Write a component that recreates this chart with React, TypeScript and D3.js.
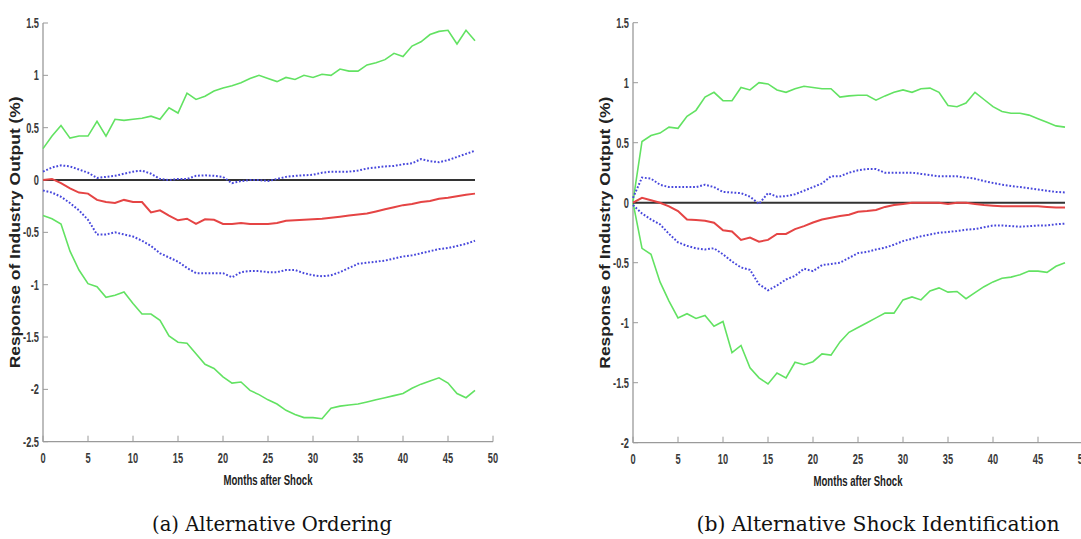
import React from 'react'
import { scaleLinear, line, range } from 'd3'

const months = range(0, 49)

// panel (a) Alternative Ordering
const upperGreenA = [0.30, 0.42, 0.52, 0.40, 0.42, 0.42, 0.56, 0.42, 0.58, 0.57, 0.58, 0.59, 0.61, 0.58, 0.69, 0.64, 0.83, 0.77, 0.80, 0.85, 0.88, 0.90, 0.93, 0.97, 1.00, 0.97, 0.94, 0.98, 0.96, 1.00, 0.98, 1.01, 1.00, 1.06, 1.04, 1.04, 1.10, 1.12, 1.15, 1.21, 1.18, 1.28, 1.32, 1.39, 1.42, 1.43, 1.30, 1.43, 1.33]
const upperBlueA = [0.08, 0.12, 0.14, 0.13, 0.10, 0.07, 0.02, 0.03, 0.04, 0.06, 0.08, 0.09, 0.06, 0.01, 0.00, 0.01, 0.01, 0.04, 0.045, 0.04, 0.03, -0.03, -0.01, 0.0, 0.0, -0.01, 0.01, 0.03, 0.04, 0.045, 0.05, 0.07, 0.08, 0.08, 0.08, 0.09, 0.11, 0.12, 0.13, 0.135, 0.15, 0.16, 0.20, 0.18, 0.17, 0.19, 0.22, 0.25, 0.28]
const responseA = [0.00, 0.01, -0.03, -0.08, -0.12, -0.13, -0.19, -0.21, -0.22, -0.19, -0.21, -0.21, -0.31, -0.29, -0.34, -0.385, -0.37, -0.42, -0.375, -0.38, -0.42, -0.42, -0.41, -0.42, -0.42, -0.42, -0.41, -0.39, -0.385, -0.38, -0.375, -0.37, -0.36, -0.35, -0.34, -0.33, -0.32, -0.30, -0.28, -0.26, -0.24, -0.23, -0.21, -0.20, -0.18, -0.17, -0.155, -0.14, -0.13]
const lowerBlueA = [-0.10, -0.12, -0.16, -0.22, -0.29, -0.38, -0.52, -0.52, -0.50, -0.52, -0.54, -0.58, -0.63, -0.70, -0.74, -0.78, -0.84, -0.89, -0.89, -0.89, -0.89, -0.93, -0.88, -0.87, -0.87, -0.88, -0.88, -0.86, -0.86, -0.89, -0.91, -0.92, -0.91, -0.88, -0.84, -0.80, -0.79, -0.78, -0.77, -0.75, -0.73, -0.72, -0.70, -0.68, -0.66, -0.65, -0.63, -0.61, -0.58]
const lowerGreenA = [-0.34, -0.37, -0.42, -0.68, -0.86, -0.99, -1.02, -1.12, -1.10, -1.07, -1.18, -1.28, -1.28, -1.34, -1.49, -1.55, -1.56, -1.66, -1.76, -1.80, -1.88, -1.94, -1.93, -2.01, -2.05, -2.10, -2.14, -2.20, -2.24, -2.27, -2.27, -2.28, -2.18, -2.16, -2.15, -2.14, -2.12, -2.10, -2.08, -2.06, -2.04, -1.99, -1.95, -1.92, -1.89, -1.94, -2.04, -2.08, -2.01]

// panel (b) Alternative Shock Identification
const upperGreenB = [0.01, 0.51, 0.56, 0.58, 0.63, 0.62, 0.72, 0.77, 0.88, 0.92, 0.85, 0.85, 0.96, 0.94, 1.00, 0.99, 0.94, 0.92, 0.95, 0.97, 0.96, 0.95, 0.95, 0.88, 0.89, 0.895, 0.895, 0.855, 0.89, 0.92, 0.94, 0.92, 0.95, 0.955, 0.92, 0.81, 0.80, 0.83, 0.92, 0.86, 0.80, 0.76, 0.745, 0.745, 0.73, 0.70, 0.67, 0.64, 0.63]
const upperBlueB = [0.04, 0.21, 0.20, 0.15, 0.13, 0.13, 0.13, 0.13, 0.15, 0.13, 0.09, 0.085, 0.08, 0.05, -0.01, 0.08, 0.05, 0.055, 0.07, 0.10, 0.13, 0.16, 0.22, 0.22, 0.25, 0.27, 0.28, 0.28, 0.25, 0.25, 0.25, 0.25, 0.24, 0.23, 0.22, 0.22, 0.22, 0.21, 0.20, 0.18, 0.165, 0.15, 0.14, 0.13, 0.12, 0.11, 0.10, 0.09, 0.085]
const responseB = [0.00, 0.04, 0.02, 0.00, -0.03, -0.07, -0.14, -0.145, -0.15, -0.167, -0.23, -0.24, -0.31, -0.29, -0.325, -0.31, -0.26, -0.26, -0.22, -0.195, -0.165, -0.14, -0.125, -0.11, -0.10, -0.075, -0.07, -0.06, -0.035, -0.02, -0.01, 0.0, 0.0, 0.0, 0.0, -0.01, 0.0, 0.0, -0.01, -0.02, -0.025, -0.03, -0.03, -0.03, -0.03, -0.03, -0.035, -0.04, -0.04]
const lowerBlueB = [-0.02, -0.09, -0.14, -0.18, -0.26, -0.33, -0.36, -0.38, -0.39, -0.38, -0.43, -0.49, -0.54, -0.56, -0.68, -0.73, -0.69, -0.64, -0.61, -0.55, -0.57, -0.52, -0.51, -0.50, -0.46, -0.42, -0.41, -0.39, -0.375, -0.35, -0.32, -0.30, -0.28, -0.265, -0.25, -0.245, -0.235, -0.225, -0.22, -0.205, -0.19, -0.19, -0.195, -0.20, -0.195, -0.19, -0.19, -0.18, -0.175]
const lowerGreenB = [0.0, -0.38, -0.43, -0.66, -0.82, -0.96, -0.925, -0.965, -0.94, -1.03, -0.99, -1.25, -1.19, -1.375, -1.46, -1.51, -1.42, -1.46, -1.33, -1.35, -1.325, -1.26, -1.27, -1.16, -1.08, -1.04, -1.00, -0.96, -0.92, -0.92, -0.81, -0.785, -0.81, -0.735, -0.71, -0.745, -0.74, -0.80, -0.75, -0.70, -0.66, -0.63, -0.62, -0.60, -0.57, -0.57, -0.58, -0.53, -0.50]

const xTicks = [0, 5, 10, 15, 20, 25, 30, 35, 40, 45, 50]
const yTicksA = [1.5, 1, 0.5, 0, -0.5, -1, -1.5, -2, -2.5]
const yTicksB = [1.5, 1, 0.5, 0, -0.5, -1, -1.5, -2]

const GREEN = '#62e262'
const BLUE = '#4848dc'
const RED = '#e54444'
const AXIS = '#9a9a9a'
const SANS = "'Liberation Sans', Arial, sans-serif"

type PanelProps = {
  left: number
  right: number
  top: number
  bottom: number
  yTicks: number[]
  upperGreen: number[]
  upperBlue: number[]
  response: number[]
  lowerBlue: number[]
  lowerGreen: number[]
  caption: string
  captionX: number
  captionWidth: number
}

function Panel(p: PanelProps) {
  const x = scaleLinear().domain([0, 50]).range([p.left, p.right])
  const y = scaleLinear().domain([p.yTicks[p.yTicks.length - 1], p.yTicks[0]]).range([p.bottom, p.top])
  const path = (vals: number[]) => line<number>().x((_, i) => x(months[i])).y(d => y(d))(vals) || ''
  const cx = (p.left + p.right) / 2
  const midY = (p.top + p.bottom) / 2

  return (
    <g>
      {/* axes */}
      <line x1={p.left} x2={p.left} y1={p.top} y2={p.bottom} stroke={AXIS} strokeWidth={1.3} />
      <line x1={p.left} x2={p.right} y1={p.bottom} y2={p.bottom} stroke={AXIS} strokeWidth={1.3} />
      {p.yTicks.map(t => (
        <g key={'y' + t}>
          <line x1={p.left} x2={p.left + 5} y1={y(t)} y2={y(t)} stroke={AXIS} strokeWidth={1} />
          <g transform={`translate(${p.left - 4},${y(t)}) scale(0.66,1)`}>
            <text dy="0.35em" textAnchor="end" fontFamily={SANS} fontWeight="bold" fontSize={14} fill="#3a3a3a">{t}</text>
          </g>
        </g>
      ))}
      {xTicks.map(t => (
        <g key={'x' + t}>
          <line x1={x(t)} x2={x(t)} y1={p.bottom} y2={p.bottom - 6} stroke={AXIS} strokeWidth={1} />
          <g transform={`translate(${x(t)},${p.bottom + 21}) scale(0.66,1)`}>
            <text textAnchor="middle" fontFamily={SANS} fontWeight="bold" fontSize={14} fill="#3a3a3a">{t}</text>
          </g>
        </g>
      ))}
      <g transform={`translate(${cx},${p.bottom + 43}) scale(0.64,1)`}>
        <text textAnchor="middle" fontFamily={SANS} fontWeight="bold" fontSize={15} fill="#222">Months after Shock</text>
      </g>
      <text transform={`translate(${p.left - 23},${midY}) rotate(-90)`} textAnchor="middle" fontFamily={SANS}
        fontWeight="bold" fontSize={14} fill="#222" textLength={272} lengthAdjust="spacingAndGlyphs">Response of Industry Output (%)</text>

      {/* series */}
      <path d={path(p.upperGreen)} fill="none" stroke={GREEN} strokeWidth={1.6} />
      <path d={path(p.lowerGreen)} fill="none" stroke={GREEN} strokeWidth={1.6} />
      <path d={path(months.map(() => 0))} fill="none" stroke="#333" strokeWidth={2} />
      <path d={path(p.upperBlue)} fill="none" stroke={BLUE} strokeWidth={2} strokeDasharray="1.8,1.8" />
      <path d={path(p.lowerBlue)} fill="none" stroke={BLUE} strokeWidth={2} strokeDasharray="1.8,1.8" />
      <path d={path(p.response)} fill="none" stroke={RED} strokeWidth={2} />

      <text x={p.captionX - p.captionWidth / 2} y={531} fontFamily="'DejaVu Serif', 'Liberation Serif', serif" fontSize={21}
        fill="#111" textLength={p.captionWidth} lengthAdjust="spacingAndGlyphs">{p.caption}</text>
    </g>
  )
}

export default function App() {
  return (
    <svg width={1081} height={539} style={{ position: 'absolute', left: 0, top: 0, background: '#fff' }}>
      <rect width={1081} height={539} fill="#fff" />
      <Panel left={43} right={493} top={23} bottom={441.7} yTicks={yTicksA}
        upperGreen={upperGreenA} upperBlue={upperBlueA} response={responseA} lowerBlue={lowerBlueA} lowerGreen={lowerGreenA}
        caption="(a) Alternative Ordering" captionX={272} captionWidth={240} />
      <Panel left={633} right={1083} top={22.7} bottom={442.7} yTicks={yTicksB}
        upperGreen={upperGreenB} upperBlue={upperBlueB} response={responseB} lowerBlue={lowerBlueB} lowerGreen={lowerGreenB}
        caption="(b) Alternative Shock Identification" captionX={878} captionWidth={363} />
    </svg>
  )
}
